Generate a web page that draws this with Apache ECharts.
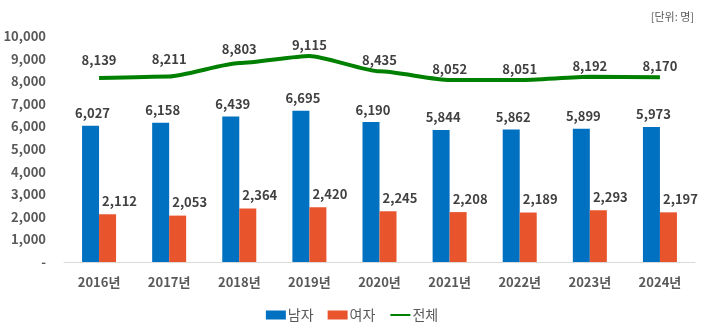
<!DOCTYPE html>
<html><head><meta charset="utf-8">
<script src="https://cdn.jsdelivr.net/npm/echarts@6/dist/echarts.min.js"></script>
<style>html,body{margin:0;padding:0;background:#fff}#c{width:704px;height:333px}</style>
</head><body><div id="c"></div>
<script>
const categories = ['2016년','2017년','2018년','2019년','2020년','2021년','2022년','2023년','2024년'];
const male = [6027, 6158, 6439, 6695, 6190, 5844, 5862, 5899, 5973];
const female = [2112, 2053, 2364, 2420, 2245, 2208, 2189, 2293, 2197];
const total = [8139, 8211, 8803, 9115, 8435, 8052, 8051, 8192, 8170];
const yTicks = [0,1000,2000,3000,4000,5000,6000,7000,8000,9000,10000];

const totalLabelLift = [7, 7, 3, 0, 1, 0, 0, 0, 1];
const FONT = '"Noto Sans CJK KR", "Noto Sans", sans-serif';
const fmt = v => v.toLocaleString('en-US');

const chart = echarts.init(document.getElementById('c'), null, {renderer:'canvas'});
chart.setOption({
  animation: false,
  textStyle: {fontFamily: FONT},
  title: {
    text: '[단위: 명]', right: 5, top: 6,
    textStyle: {fontSize: 11, fontWeight: 'normal', color: '#595959', fontFamily: FONT}
  },
  grid: {left: 64, right: 9, top: 36, bottom: 71, containLabel: false},
  legend: {
    bottom: 6, left: 'center', itemGap: 14, itemWidth: 20, itemHeight: 9,
    textStyle: {fontSize: 14, color: '#595959', fontFamily: FONT, padding: [0,0,0,-3]},
    data: [{name:'남자', icon:'rect'}, {name:'여자', icon:'rect'}, {name:'전체'}]
  },
  xAxis: {
    type: 'category', data: categories,
    axisLine: {lineStyle: {color: '#d9d9d9', width: 1}},
    axisTick: {show: false},
    axisLabel: {fontSize: 13, fontWeight: 'bold', color: '#595959', margin: 14, fontFamily: FONT}
  },
  yAxis: {
    type: 'value', min: 0, max: 10000, interval: 1000,
    splitLine: {show: false}, axisLine: {show: false}, axisTick: {show: false},
    axisLabel: {
      fontSize: 13, fontWeight: 'bold', color: '#595959', margin: 18, fontFamily: FONT,
      formatter: v => (yTicks.includes(v) ? (v === 0 ? '-' : fmt(v)) : '')
    }
  },
  series: [
    {
      name: '남자', type: 'bar', data: male, barWidth: 17, barGap: '0%',
      itemStyle: {color: '#0070C0'},
      label: {show: true, position: 'top', distance: 6, offset: [2, 0],
        fontSize: 13, fontWeight: 'bold', color: '#404040', fontFamily: FONT, formatter: p => fmt(p.value)}
    },
    {
      name: '여자', type: 'bar', data: female, barWidth: 17,
      itemStyle: {color: '#E8542C'},
      label: {show: true, position: 'top', distance: 7, offset: [12, 0],
        fontSize: 13, fontWeight: 'bold', color: '#404040', fontFamily: FONT, formatter: p => fmt(p.value)}
    },
    {
      name: '전체', type: 'line', smooth: 0.2, smoothMonotone: 'x',
      symbol: 'circle', symbolSize: 2, showSymbol: true,
      data: total.map((v, i) => ({value: v, label: {offset: [0, -totalLabelLift[i]]}})),
      lineStyle: {color: '#008000', width: 4},
      itemStyle: {color: 'rgba(0,0,0,0)'},
      label: {show: true, position: 'top', distance: 3,
        fontSize: 13, fontWeight: 'bold', color: '#404040', fontFamily: FONT, formatter: p => fmt(p.value)}
    }
  ]
});
</script></body></html>
